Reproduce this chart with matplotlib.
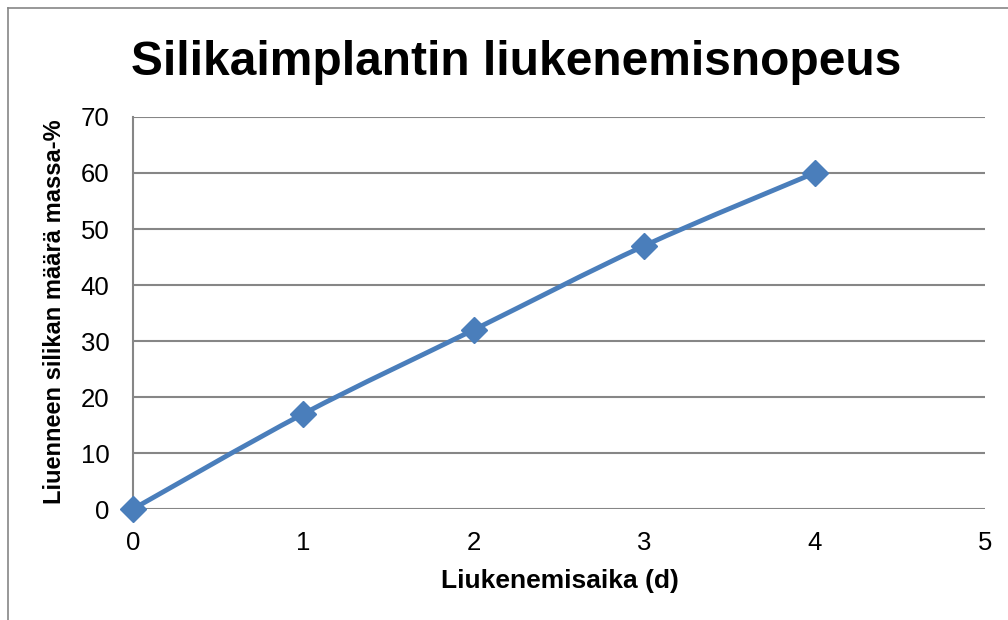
import numpy as np
import matplotlib
matplotlib.use("Agg")
import matplotlib.pyplot as plt
from matplotlib.path import Path
from matplotlib.patches import PathPatch

plt.rcParams['font.family'] = ['Liberation Sans', 'DejaVu Sans']

# data
days = [0, 1, 2, 3, 4]
dissolved = [0, 17, 32, 47, 60]
x_ticks = [0, 1, 2, 3, 4, 5]
y_ticks = [0, 10, 20, 30, 40, 50, 60, 70]

title = "Silikaimplantin liukenemisnopeus"
x_label = "Liukenemisaika (d)"
y_label = "Liuenneen silikan määrä massa-%"

blue = "#4A7EBB"
grid = "#868686"

fig = plt.figure(figsize=(10.08, 6.2), dpi=100)
ax = fig.add_axes([0.1319, 0.179, 0.8453, 0.6323])

# smoothed line like Excel (Bezier through the points)
x = np.array(days, dtype=float)
y = np.array(dissolved, dtype=float)
verts = [(x[0], y[0])]
codes = [Path.MOVETO]
n = len(x)
for i in range(n - 1):
    x0, y0 = (x[i - 1], y[i - 1]) if i > 0 else (x[i], y[i])
    x3, y3 = (x[i + 2], y[i + 2]) if i + 2 < n else (x[i + 1], y[i + 1])
    c1 = (x[i] + (x[i + 1] - x0) / 6, y[i] + (y[i + 1] - y0) / 6)
    c2 = (x[i + 1] - (x3 - x[i]) / 6, y[i + 1] - (y3 - y[i]) / 6)
    verts += [c1, c2, (x[i + 1], y[i + 1])]
    codes += [Path.CURVE4] * 3
ax.add_patch(PathPatch(Path(verts, codes), facecolor='none', edgecolor=blue,
                       lw=3.5, capstyle='round', joinstyle='round', zorder=3))
ax.plot(days, dissolved, linestyle='none', marker='D', markersize=13,
        color=blue, zorder=4, clip_on=False)

ax.set_xlim(0, 5)
ax.set_ylim(0, 70)
ax.set_xticks(x_ticks)
ax.set_yticks(y_ticks)
ax.yaxis.grid(True, color=grid, lw=1.5)
ax.set_axisbelow(True)
for s in ['top', 'right', 'bottom']:
    ax.spines[s].set_visible(False)
ax.spines['left'].set_color(grid)
ax.spines['left'].set_linewidth(1.5)
ax.tick_params(length=0, labelsize=18.5, colors='black')
ax.tick_params(axis='y', pad=17)
ax.tick_params(axis='x', pad=16)

# axis labels and title placed like the Excel chart
fig.text(0.555, 0.0516, x_label, ha='center', va='baseline', fontsize=19, fontweight='bold')
fig.text(0.0536, 0.497, y_label, ha='center', va='center', rotation=90,
         fontsize=17, fontweight='bold')
fig.text(0.512, 0.879, title, ha='center', va='baseline', fontsize=34.5, fontweight='bold')

# outer chart border (left and top visible)
fig.add_artist(plt.Line2D([0.0079, 0.0079], [0, 0.987], color=grid, lw=1.2))
fig.add_artist(plt.Line2D([0.0079, 1], [0.987, 0.987], color=grid, lw=1.2))

fig.savefig("out.png", dpi=100)
